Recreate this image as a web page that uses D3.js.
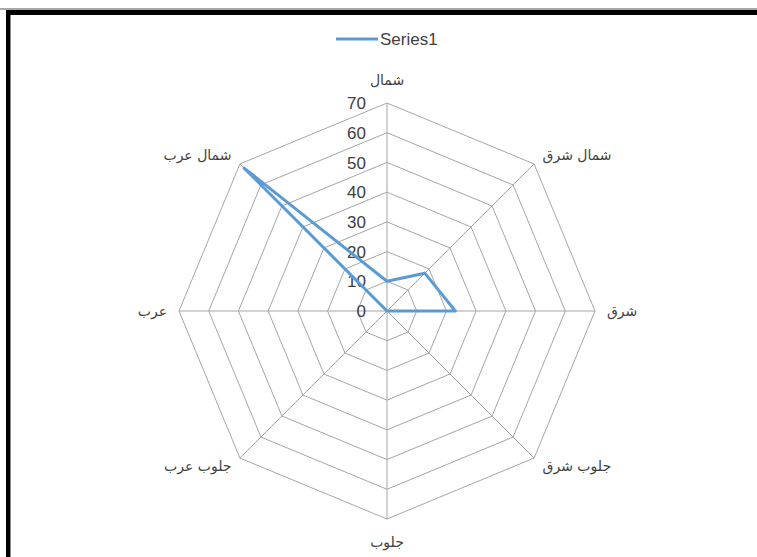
<!DOCTYPE html>
<html>
<head>
<meta charset="utf-8">
<script src="https://cdn.jsdelivr.net/npm/d3@7"></script>
<style>
  html, body { margin: 0; padding: 0; background: #fff; }
  svg { display: block; }
</style>
</head>
<body>
<div id="chart"></div>
<script>
// chart data
const directions = ["شمال", "شمال شرق", "شرق", "جلوب شرق", "جلوب", "جلوب عرب", "عرب", "شمال عرب"];
const series1 = [10, 18, 23, 0, 0, 0, 0, 68];
const tickValues = [0, 10, 20, 30, 40, 50, 60, 70];
const seriesName = "Series1";

const width = 757, height = 557;
const cx = 387, cy = 311, radius = 208;

let svg = d3.select("#chart").append("svg")
  .attr("width", width)
  .attr("height", height);

// frame (cropped window edge: top + left only)
svg.append("rect").attr("x", 0).attr("y", 8).attr("width", width).attr("height", 2).attr("fill", "#a8a8a8");
svg.append("rect").attr("x", 6).attr("y", 10).attr("width", width - 6).attr("height", 5).attr("fill", "#000");
svg.append("rect").attr("x", 6).attr("y", 10).attr("width", 4).attr("height", height - 10).attr("fill", "#000");
svg.append("rect").attr("x", 10).attr("y", 15).attr("width", 1).attr("height", height - 15).attr("fill", "#8a8a8a");

let r = d3.scaleLinear().domain([0, 70]).range([0, radius]);
let ang = i => i * 2 * Math.PI / directions.length;

let g = svg.append("g").attr("transform", `translate(${cx},${cy})`);

// rings
let ringLine = d3.lineRadial()
  .angle((d, i) => ang(i))
  .radius(d => d)
  .curve(d3.curveLinearClosed);

g.selectAll("path.ring")
  .data(tickValues.slice(1))
  .enter().append("path")
    .attr("class", "ring")
    .attr("d", v => ringLine(directions.map(() => r(v))))
    .attr("fill", "none")
    .attr("stroke", "#a6a6a6")
    .attr("stroke-width", 1);

// spokes
g.selectAll("line.spoke")
  .data(directions)
  .enter().append("line")
    .attr("class", "spoke")
    .attr("x1", 0).attr("y1", 0)
    .attr("x2", (d, i) => r(70) * Math.sin(ang(i)))
    .attr("y2", (d, i) => -r(70) * Math.cos(ang(i)))
    .attr("stroke", "#a6a6a6")
    .attr("stroke-width", 1);

// tick labels
g.selectAll("text.tick")
  .data(tickValues)
  .enter().append("text")
    .attr("class", "tick")
    .attr("x", -21)
    .attr("y", v => -r(v))
    .attr("dy", "0.36em")
    .attr("text-anchor", "end")
    .style("font", "17px 'Liberation Sans', sans-serif")
    .style("fill", "#404040")
    .text(v => v);

// category labels
g.selectAll("text.cat")
  .data(directions)
  .enter().append("text")
    .attr("class", "cat")
    .attr("x", (d, i) => (r(70) + 12) * Math.sin(ang(i)))
    .attr("y", (d, i) => {
      let c = Math.cos(ang(i));
      let extra = Math.abs(c) > 0.99 ? -11 * Math.sign(c) : 0;
      return -(r(70) + 12) * c + extra;
    })
    .attr("dy", "0.35em")
    .attr("text-anchor", (d, i) => {
      let s = Math.sin(ang(i));
      return Math.abs(s) < 0.01 ? "middle" : (s > 0 ? "start" : "end");
    })
    .style("font", "14px 'DejaVu Sans', sans-serif")
    .style("fill", "#404040")
    .text(d => d);

// series line
g.append("path")
  .datum(series1)
  .attr("d", ringLine.radius(d => r(d)))
  .attr("fill", "none")
  .attr("stroke", "#5b9bd5")
  .attr("stroke-width", 3)
  .attr("stroke-linejoin", "round");

// legend
let legend = svg.append("g").attr("transform", "translate(336,39)");
legend.append("line")
  .attr("x1", 0).attr("x2", 42)
  .attr("y1", 0).attr("y2", 0)
  .attr("stroke", "#5b9bd5")
  .attr("stroke-width", 3);
legend.append("text")
  .attr("x", 44)
  .attr("y", 0)
  .attr("dy", "0.36em")
  .style("font", "17px 'Liberation Sans', sans-serif")
  .style("fill", "#404040")
  .text(seriesName);
</script>
</body>
</html>
